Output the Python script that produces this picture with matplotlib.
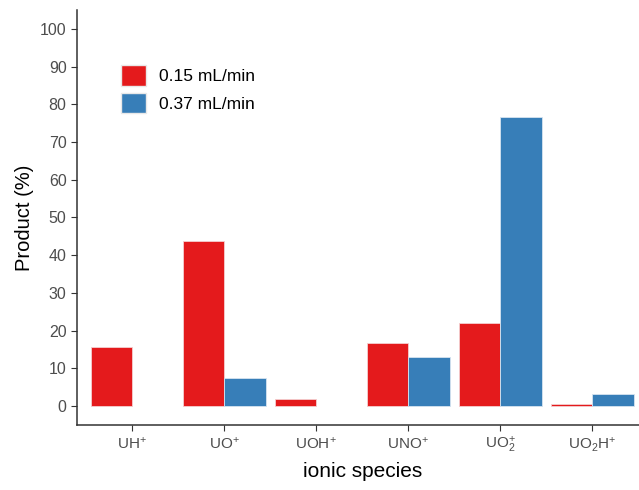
import numpy as np
import matplotlib.pyplot as plt
from matplotlib.patches import Patch

plt.rcParams['font.family'] = ['Liberation Sans', 'DejaVu Sans']
plt.rcParams['mathtext.fontset'] = 'custom'
plt.rcParams['mathtext.rm'] = 'Liberation Sans'
plt.rcParams['mathtext.it'] = 'Liberation Sans'

# datos
species = ['UH$^{+}$', 'UO$^{+}$', 'UOH$^{+}$', 'UNO$^{+}$', 'UO$_2^{+}$', 'UO$_2$H$^{+}$']
flow_015 = [15.6, 43.8, 2.0, 16.7, 22.0, 0.5]
flow_037 = [0.0, 7.4, 0.0, 13.0, 76.7, 3.2]
labels = ['0.15 mL/min', '0.37 mL/min']
colors = ['#E41A1C', '#377EB8']

fig = plt.figure(figsize=(6.39, 4.9), dpi=100)
ax = fig.add_axes([0.1205, 0.1327, 0.893, 0.847])

x = np.arange(len(species))
w = 0.45
# las barras de altura cero no se dibujan
y1 = np.where(np.array(flow_015) > 0, flow_015, np.nan)
y2 = np.where(np.array(flow_037) > 0, flow_037, np.nan)
ax.bar(x - w / 2, y1, w, color=colors[0], edgecolor='#f4d0d0', linewidth=0.6)
ax.bar(x + w / 2, y2, w, color=colors[1], edgecolor='#d6e4f0', linewidth=0.6)

ax.set_xlim(-0.6, 5.6)
ax.set_ylim(-5, 105)
ax.set_yticks(range(0, 101, 10))
ax.set_xticks(x)
ax.set_xticklabels(species)
ax.tick_params(axis='both', colors='#333333', labelcolor='#4d4d4d', labelsize=11.5, length=4)
ax.tick_params(axis='x', labelsize=11)
ax.set_xlabel('ionic species', fontsize=15, color='black', labelpad=5)
ax.set_ylabel('Product (%)', fontsize=14.5, color='black', labelpad=4)

for s in ['top', 'right']:
    ax.spines[s].set_visible(False)
for s in ['left', 'bottom']:
    ax.spines[s].set_color('#333333')
    ax.spines[s].set_linewidth(1.1)

handles = [Patch(facecolor=c, edgecolor='#e8e8e8') for c in colors]
ax.legend(handles, labels, loc='upper left', bbox_to_anchor=(0.05, 0.905),
          frameon=False, fontsize=12.5, handlelength=1.45, handleheight=1.45,
          handletextpad=0.75, labelspacing=0.4)

fig.savefig('out.png', dpi=100)
